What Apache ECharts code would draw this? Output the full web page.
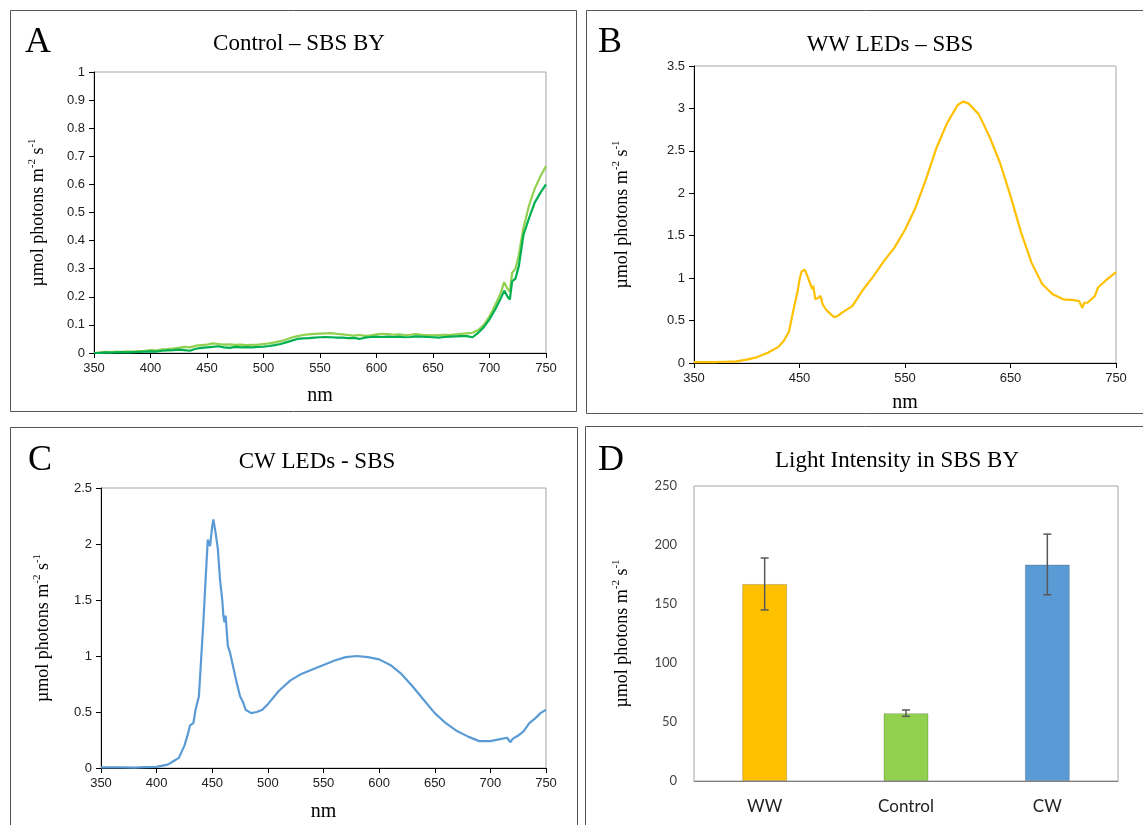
<!DOCTYPE html>
<html><head><meta charset="utf-8">
<script src="https://cdn.jsdelivr.net/npm/echarts@6/dist/echarts.min.js"></script>
<style>html,body{margin:0;padding:0;background:#fff}#c{width:1143px;height:825px}</style>
</head><body><div id="c"></div>
<script>
// ---------- Panel A: Control – SBS BY ----------
const wlA = [350,355,360,365,370,375,380,385,390,395,400,405,410,415,420,425,430,435,440,445,450,455,460,465,470,475,480,485,490,495,500,505,510,515,520,525,530,535,540,545,550,555,560,565,570,575,580,585,590,595,600,605,610,615,620,625,630,635,640,645,650,655,660,665,670,675,680,685,690,695,700,705,710,713,716,718,720,723,726,730,735,740,745,750];
const controlLight = [0.000,0.002,0.004,0.003,0.005,0.004,0.006,0.005,0.007,0.008,0.010,0.009,0.013,0.014,0.016,0.018,0.022,0.020,0.026,0.028,0.030,0.034,0.032,0.030,0.031,0.029,0.030,0.028,0.029,0.030,0.032,0.034,0.038,0.042,0.048,0.055,0.060,0.064,0.066,0.068,0.069,0.070,0.071,0.068,0.066,0.064,0.062,0.064,0.061,0.063,0.066,0.068,0.067,0.065,0.066,0.064,0.065,0.067,0.065,0.064,0.063,0.064,0.065,0.064,0.066,0.068,0.070,0.072,0.082,0.100,0.130,0.170,0.215,0.252,0.228,0.218,0.285,0.300,0.350,0.445,0.525,0.585,0.628,0.665];
const controlDark = [0.000,0.000,0.002,0.001,0.002,0.003,0.002,0.003,0.004,0.005,0.006,0.005,0.008,0.009,0.010,0.012,0.010,0.008,0.015,0.018,0.020,0.022,0.024,0.020,0.018,0.022,0.020,0.021,0.020,0.022,0.023,0.025,0.028,0.032,0.038,0.044,0.050,0.052,0.053,0.055,0.056,0.057,0.056,0.055,0.055,0.053,0.054,0.050,0.055,0.057,0.058,0.057,0.058,0.057,0.058,0.056,0.057,0.059,0.058,0.057,0.056,0.055,0.057,0.058,0.059,0.060,0.060,0.056,0.072,0.092,0.120,0.155,0.195,0.222,0.200,0.190,0.255,0.265,0.310,0.420,0.480,0.535,0.570,0.600];

// ---------- Panel B: WW LEDs – SBS ----------
const wlB = [350,360,370,380,390,400,410,420,430,435,440,445,448,450,452,455,457,460,462,463,465,468,470,472,475,480,483,487,490,500,510,520,530,540,550,560,570,580,590,600,605,610,620,630,640,650,660,670,680,690,700,710,715,718,720,723,730,733,740,750];
const wwSpectrum = [0.01,0.01,0.01,0.015,0.02,0.04,0.07,0.12,0.19,0.26,0.37,0.67,0.83,0.98,1.08,1.10,1.04,0.94,0.87,0.91,0.75,0.77,0.79,0.69,0.63,0.57,0.54,0.56,0.59,0.67,0.86,1.02,1.20,1.36,1.57,1.83,2.17,2.54,2.83,3.04,3.08,3.06,2.93,2.67,2.36,1.97,1.54,1.18,0.93,0.81,0.75,0.74,0.73,0.65,0.71,0.71,0.79,0.89,0.97,1.07];

// ---------- Panel C: CW LEDs - SBS ----------
const wlC = [350,360,370,380,390,400,410,415,420,425,428,430,433,435,438,440,442,444,446,448,450,451,453,455,457,459,460,461,462,464,466,468,470,472,475,478,480,485,490,495,500,510,520,530,540,550,560,570,580,590,600,610,620,630,640,650,660,670,680,690,700,710,715,718,720,725,730,735,740,745,750];
const cwSpectrum = [0.005,0.005,0.006,0.004,0.007,0.01,0.03,0.06,0.09,0.20,0.30,0.38,0.40,0.52,0.64,0.97,1.30,1.68,2.04,1.98,2.16,2.22,2.10,1.96,1.68,1.50,1.36,1.30,1.36,1.09,1.03,0.94,0.85,0.76,0.64,0.58,0.52,0.49,0.50,0.52,0.57,0.69,0.78,0.84,0.88,0.92,0.96,0.99,1.00,0.99,0.97,0.92,0.84,0.73,0.61,0.49,0.40,0.33,0.28,0.24,0.24,0.26,0.27,0.23,0.26,0.29,0.33,0.40,0.44,0.49,0.52];

// ---------- Panel D: Light Intensity in SBS BY ----------
const barCategories = ['WW', 'Control', 'CW'];
const barMeans = [167, 57.5, 183.5];
const barErrors = [22, 2.7, 25.7];
const barColors = ['#FFC000', '#92D050', '#5B9BD5'];

const SERIF = '"Liberation Serif","Times New Roman",serif';
const SANS = '"Liberation Sans",Arial,sans-serif';
const CAL = 'Lato,"Open Sans",sans-serif';

const yName = '{a|µmol photons m}{s|-2}{a| s}{s|-1}';
const yNameStyle = {
  rich: {
    a: {fontFamily: SERIF, fontSize: 18, color: '#000', lineHeight: 22},
    s: {fontFamily: SERIF, fontSize: 11, color: '#000', lineHeight: 12, verticalAlign: 'top'}
  }
};

function pairs(xs, ys, off) { return xs.map((x, i) => [x - (off || 0), ys[i]]); }

function specXAxis(gi, min, max, interval, fmt, gap) {
  return {
    type: 'value', gridIndex: gi, min: min, max: max, interval: interval,
    name: 'nm', nameLocation: 'middle', nameGap: gap,
    nameTextStyle: {fontFamily: SERIF, fontSize: 20, color: '#000'},
    axisLine: {show: true, onZero: false, lineStyle: {color: '#000', width: 1}},
    axisTick: {show: true, inside: false, length: 5, lineStyle: {color: '#000'}},
    axisLabel: {fontFamily: SANS, fontSize: 13, color: '#222', margin: 9, formatter: fmt},
    splitLine: {show: false}
  };
}
function specYAxis(gi, max, interval, gap) {
  return {
    type: 'value', gridIndex: gi, min: 0, max: max, interval: interval,
    name: yName, nameLocation: 'middle', nameGap: gap, nameTextStyle: yNameStyle,
    axisLine: {show: true, lineStyle: {color: '#000', width: 1}},
    axisTick: {show: true, inside: false, length: 5, lineStyle: {color: '#000'}},
    axisLabel: {fontFamily: SANS, fontSize: 13, color: '#222', margin: 9},
    splitLine: {show: false}
  };
}

const chart = echarts.init(document.getElementById('c'), null, {renderer: 'canvas'});

const gridBase = {show: true, borderColor: '#a6a6a6', borderWidth: 1, containLabel: false};
const titleStyle = {fontFamily: SERIF, fontSize: 23, fontWeight: 'normal', color: '#000'};

const option = {
  animation: false,
  backgroundColor: '#fff',
  title: [
    {text: 'Control – SBS BY', left: 294, top: 27, textAlign: 'center', textStyle: titleStyle},
    {text: 'WW LEDs – SBS', left: 885, top: 28, textAlign: 'center', textStyle: titleStyle},
    {text: 'CW LEDs - SBS', left: 312, top: 445, textAlign: 'center', textStyle: titleStyle},
    {text: 'Light Intensity in SBS BY', left: 892, top: 444, textAlign: 'center', textStyle: titleStyle}
  ],
  graphic: [
    {type: 'rect', shape: {x: 10.5, y: 10.5, width: 566, height: 401}, style: {fill: null, stroke: '#555', lineWidth: 1}, silent: true},
    {type: 'rect', shape: {x: 586.5, y: 10.5, width: 600, height: 403}, style: {fill: null, stroke: '#555', lineWidth: 1}, silent: true},
    {type: 'rect', shape: {x: 10.5, y: 427.5, width: 567, height: 450}, style: {fill: null, stroke: '#555', lineWidth: 1}, silent: true},
    {type: 'rect', shape: {x: 585.5, y: 426.5, width: 600, height: 450}, style: {fill: null, stroke: '#555', lineWidth: 1}, silent: true},
    {type: 'text', left: 25, top: 25, style: {text: 'A', font: '36px ' + SERIF, fill: '#000'}},
    {type: 'text', left: 598, top: 25, style: {text: 'B', font: '36px ' + SERIF, fill: '#000'}},
    {type: 'text', left: 28, top: 443, style: {text: 'C', font: '36px ' + SERIF, fill: '#000'}},
    {type: 'text', left: 598, top: 443, style: {text: 'D', font: '36px ' + SERIF, fill: '#000'}}
  ],
  grid: [
    Object.assign({left: 94, top: 72, width: 452, height: 281}, gridBase),
    Object.assign({left: 694, top: 66, width: 422, height: 297}, gridBase),
    Object.assign({left: 101, top: 488, width: 445, height: 280}, gridBase),
    Object.assign({left: 694, top: 486, width: 424, height: 295}, gridBase)
  ],
  xAxis: [
    specXAxis(0, 350, 750, 50, null, 33),
    specXAxis(1, 0, 400, 100, v => String(v + 350), 30),
    specXAxis(2, 350, 750, 50, null, 34),
    {
      type: 'category', gridIndex: 3, data: barCategories,
      axisLine: {show: true, lineStyle: {color: '#7f7f7f', width: 1}},
      axisTick: {show: false},
      axisLabel: {fontFamily: CAL, fontSize: 17, color: '#222', margin: 17}
    }
  ],
  yAxis: [
    specYAxis(0, 1, 0.1, 45),
    specYAxis(1, 3.5, 0.5, 61),
    specYAxis(2, 2.5, 0.5, 47),
    {
      type: 'value', gridIndex: 3, min: 0, max: 250, interval: 50,
      name: yName, nameLocation: 'middle', nameGap: 61, nameTextStyle: yNameStyle,
      axisLine: {show: false}, axisTick: {show: false},
      axisLabel: {fontFamily: CAL, fontSize: 13, color: '#444', margin: 17},
      splitLine: {show: false}
    }
  ],
  series: [
    {type: 'line', xAxisIndex: 0, yAxisIndex: 0, data: pairs(wlA, controlLight), showSymbol: false, lineStyle: {color: '#92D050', width: 2.2}, z: 3},
    {type: 'line', xAxisIndex: 0, yAxisIndex: 0, data: pairs(wlA, controlDark), showSymbol: false, lineStyle: {color: '#00B050', width: 2.2}, z: 4},
    {type: 'line', xAxisIndex: 1, yAxisIndex: 1, data: pairs(wlB, wwSpectrum, 350), showSymbol: false, lineStyle: {color: '#FFC000', width: 2.2}},
    {type: 'line', xAxisIndex: 2, yAxisIndex: 2, data: pairs(wlC, cwSpectrum), showSymbol: false, lineStyle: {color: '#5B9BD5', width: 2.2}},
    {
      type: 'bar', xAxisIndex: 3, yAxisIndex: 3, barWidth: 45,
      data: barMeans.map((v, i) => ({value: v, itemStyle: {color: barColors[i], borderColor: 'rgba(0,0,0,0.18)', borderWidth: 1}}))
    },
    {
      type: 'custom', xAxisIndex: 3, yAxisIndex: 3, z: 10,
      data: barMeans.map((v, i) => [i, v - barErrors[i], v + barErrors[i]]),
      renderItem: function (params, api) {
        const lo = api.coord([api.value(0), api.value(1)]);
        const hi = api.coord([api.value(0), api.value(2)]);
        const w = 4;
        const st = {stroke: '#595959', lineWidth: 1.5};
        return {type: 'group', children: [
          {type: 'line', shape: {x1: lo[0], y1: lo[1], x2: hi[0], y2: hi[1]}, style: st},
          {type: 'line', shape: {x1: lo[0] - w, y1: lo[1], x2: lo[0] + w, y2: lo[1]}, style: st},
          {type: 'line', shape: {x1: hi[0] - w, y1: hi[1], x2: hi[0] + w, y2: hi[1]}, style: st}
        ]};
      }
    }
  ]
};
chart.setOption(option);
</script>
</body></html>
